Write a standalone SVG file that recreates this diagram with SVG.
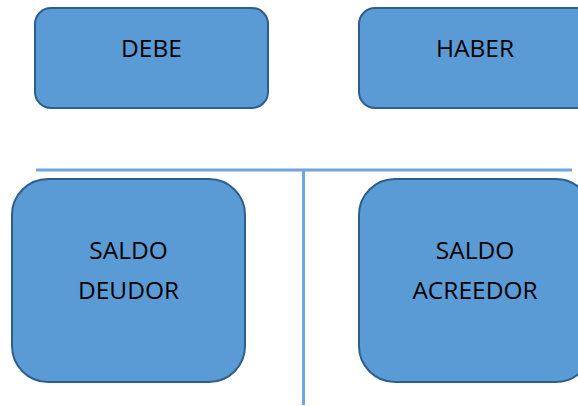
<svg xmlns="http://www.w3.org/2000/svg" width="578" height="406" viewBox="0 0 578 406">
<style>
.box{fill:#5B9BD5;stroke:#2E5E8C;stroke-width:2}
.lbl{font-family:"Open Sans","Liberation Sans",sans-serif;font-size:24.5px;fill:#000;text-anchor:middle}
.ln{stroke:#6FA6DE;stroke-width:3;fill:none}
</style>
<rect width="578" height="406" fill="#fff"/>
<g id="connectors">
<line class="ln" x1="36" y1="170" x2="572" y2="170"/>
<line class="ln" x1="303.5" y1="170" x2="303.5" y2="405"/>
</g>
<g id="debe">
<rect class="box" x="35" y="8" width="233" height="100" rx="16"/>
<text class="lbl" x="151.5" y="57">DEBE</text>
</g>
<g id="haber">
<rect class="box" x="359" y="8" width="233" height="100" rx="16"/>
<text class="lbl" x="475" y="57">HABER</text>
</g>
<g id="saldo-deudor">
<rect class="box" x="12" y="179" width="233" height="203" rx="36"/>
<text class="lbl" x="128.5" y="259">SALDO</text>
<text class="lbl" x="128.5" y="299">DEUDOR</text>
</g>
<g id="saldo-acreedor">
<rect class="box" x="359" y="179" width="233" height="203" rx="36"/>
<text class="lbl" x="475" y="259">SALDO</text>
<text class="lbl" x="475" y="299">ACREEDOR</text>
</g>
</svg>
